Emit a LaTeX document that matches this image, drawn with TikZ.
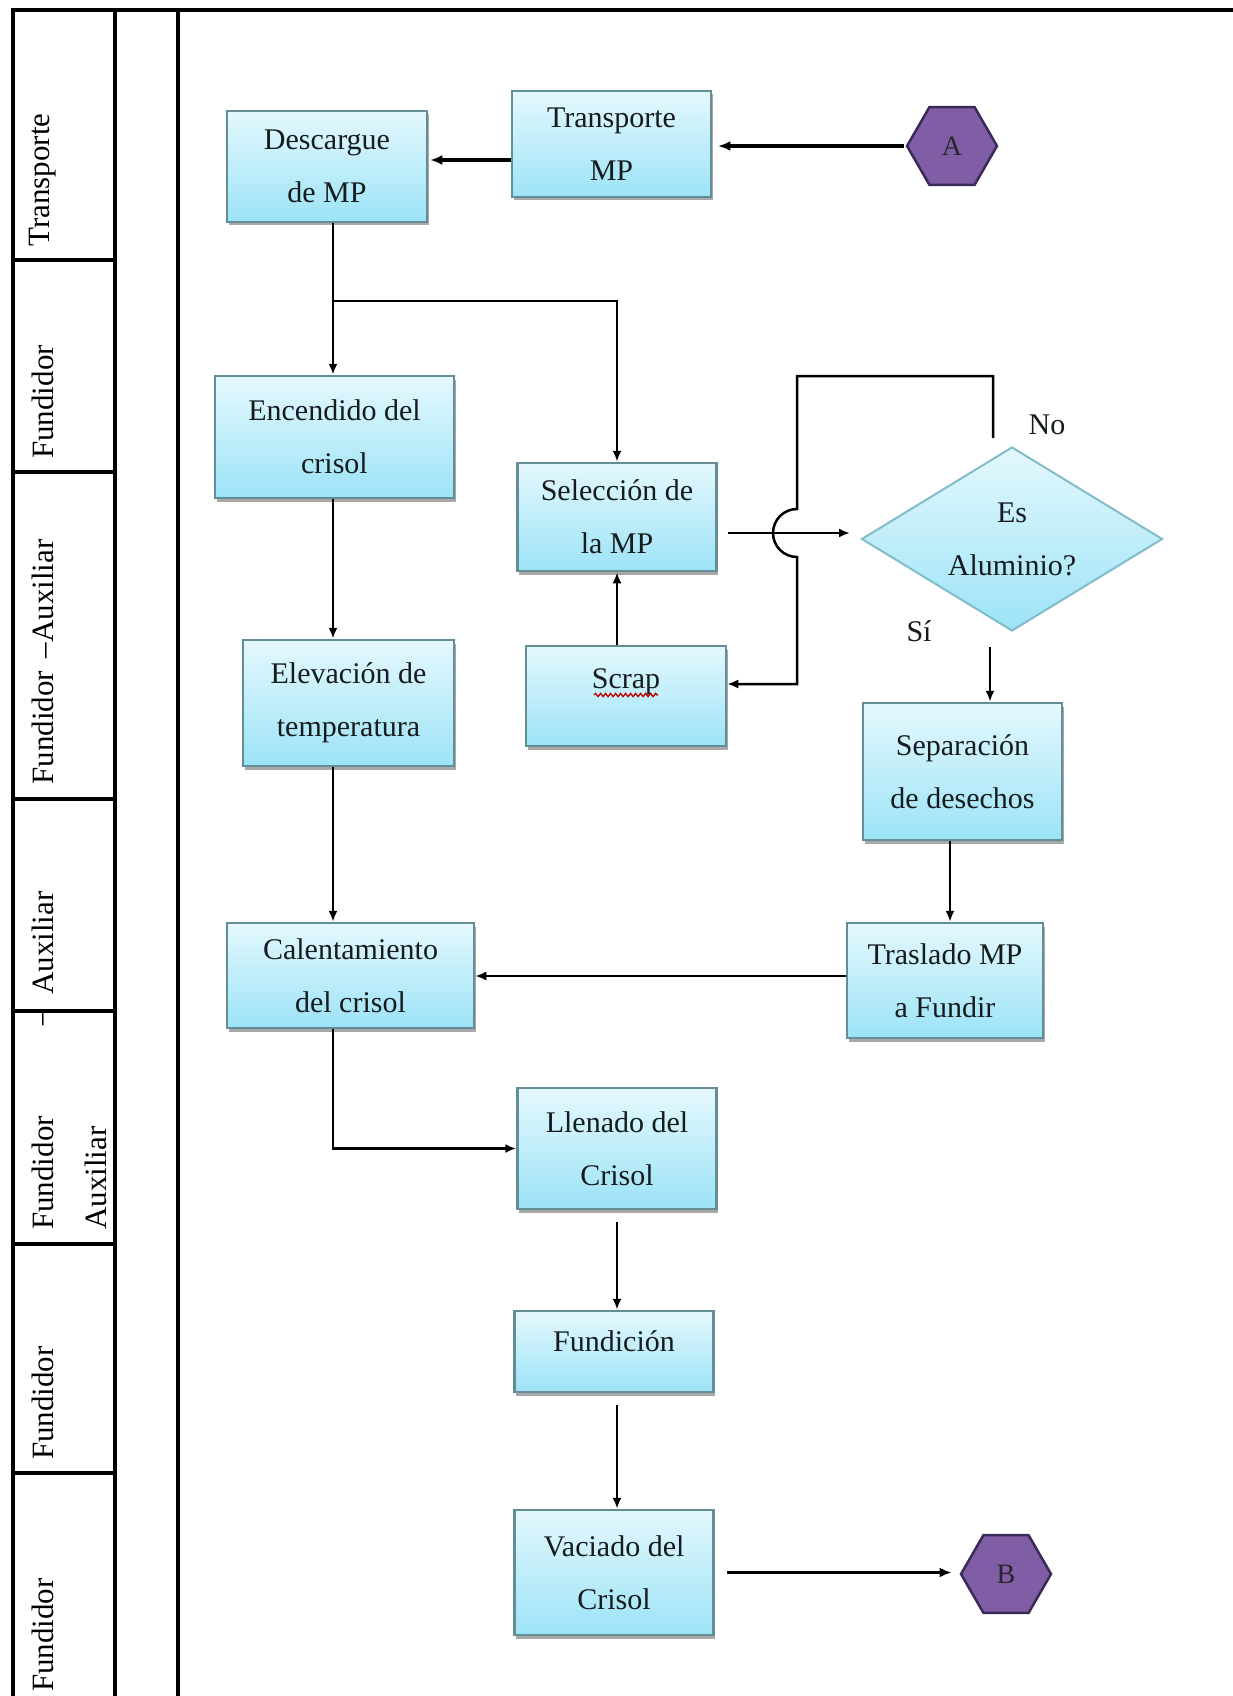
\documentclass[tikz,border=0pt]{standalone}
\usepackage{fontspec}
\setmainfont{Liberation Serif}
\usetikzlibrary{shapes.geometric,shadows,arrows.meta,decorations.pathmorphing,calc}

\definecolor{boxtop}{RGB}{228,248,253}
\definecolor{boxbot}{RGB}{156,227,247}
\definecolor{boxline}{RGB}{100,142,150}
\definecolor{decline}{RGB}{130,188,202}
\definecolor{hexfill}{RGB}{128,94,166}
\definecolor{hexline}{RGB}{58,42,88}
\definecolor{txt}{RGB}{22,28,30}

\tikzset{
  lane/.style={line width=3.5pt, black},
  lanelabel/.style={rotate=90, font=\fontsize{31}{53}\selectfont, inner sep=0pt, text=black},
  proc/.style={rectangle, draw=boxline, line width=2.5pt,
    top color=boxtop, bottom color=boxbot, align=center, inner sep=0pt,
    font=\fontsize{30}{53}\selectfont, text=txt,
    drop shadow={shadow xshift=1.5pt, shadow yshift=-3.5pt, fill=gray!75, opacity=0.9}},
  decision/.style={diamond, aspect=1.6, draw=decline, line width=2pt,
    top color=boxtop, bottom color=boxbot, align=center, inner sep=0pt,
    font=\fontsize{30}{53}\selectfont, text=txt,
    minimum width=301pt, minimum height=184pt},
  connector/.style={regular polygon, regular polygon sides=6,
    draw=hexline, line width=2.5pt, fill=hexfill, minimum size=90pt, inner sep=0pt,
    font=\fontsize{28}{34}\selectfont, text=black!85},
  flow/.style={line width=2.5pt, -{Latex[length=11pt,width=9pt]}},
  heavyflow/.style={line width=4pt, -{Latex[length=12pt,width=10pt]}},
  tag/.style={font=\fontsize{30}{36}\selectfont, inner sep=0pt, text=txt},
}

\begin{document}
\begin{tikzpicture}[x=1pt, y=-1pt]
  \useasboundingbox (0,0) rectangle (1233,1696);
  \fill[white] (0,0) rectangle (1233,1696);

  % swimlane frame
  \draw[lane] (1233,10) -- (13,10) -- (13,1696);
  \draw[lane] (115,10) -- (115,1696);
  \draw[lane] (178,10) -- (178,1696);
  \foreach \yy in {260,472,799,1011,1244,1473}
    \draw[lane] (13,\yy) -- (115,\yy);

  % lane titles
  \node[lanelabel] (l1) at (43,180) {Transporte};
  \node[lanelabel] (l2) at (43,402) {Fundidor};
  \node[lanelabel] (l3) at (43,662) {Fundidor \,–Auxiliar};
  \node[lanelabel] (l4) at (43,943) {Auxiliar};
  \node[lanelabel] (l4d) at (47,1018) {–};
  \node[lanelabel, align=left] (l5) at (69.5,1173) {Fundidor\\Auxiliar};
  \node[lanelabel] (l6) at (43,1403) {Fundidor};
  \node[lanelabel] (l7) at (43,1635) {Fundidor};

  % process steps
  \node[proc, minimum width=200pt, minimum height=111pt] (desc) at (327,166.5) {Descargue\\de MP};
  \node[proc, minimum width=199pt, minimum height=106pt] (trans) at (611.5,144) {Transporte\\MP};
  \node[proc, minimum width=239pt, minimum height=122pt] (enc) at (334.5,437) {Encendido del\\crisol};
  \node[proc, minimum width=199pt, minimum height=108pt] (sel) at (617,517) {Selección de\\la MP};
  \node[proc, minimum width=200pt, minimum height=100pt] (scrap) at (626,696) {\raisebox{34pt}{Scrap}};
  \node[proc, minimum width=211pt, minimum height=126pt] (elev) at (348.5,703) {Elevación de\\temperatura};
  \node[proc, minimum width=199pt, minimum height=137pt] (sep) at (962.5,771.5) {Separación\\de desechos};
  \node[proc, minimum width=247pt, minimum height=105pt] (cal) at (350.5,975.5) {Calentamiento\\del crisol};
  \node[proc, minimum width=196pt, minimum height=115pt] (tras) at (945,980.5) {Traslado MP\\a Fundir};
  \node[proc, minimum width=199pt, minimum height=121pt] (llen) at (617,1148.5) {Llenado del\\Crisol};
  \node[proc, minimum width=199pt, minimum height=81pt] (fund) at (614,1351.5) {\raisebox{21pt}{Fundición}};
  \node[proc, minimum width=199pt, minimum height=125pt] (vac) at (614,1572.5) {Vaciado del\\Crisol};

  \node[decision] (dia) at (1012,539) {Es\\Aluminio?};

  \node[connector] (A) at (952,146) {A};
  \node[connector] (B) at (1006,1574) {B};

  % spell-check squiggle under Scrap
  \draw[red!75!black, line width=1.3pt, decorate,
        decoration={snake, amplitude=1.6pt, segment length=5pt}]
    ($(scrap.center)+(-32,-1)$) -- ($(scrap.center)+(32,-1)$);

  % branch labels
  \node[tag] (nolbl) at (1047,425) {No};
  \node[tag] (silbl) at (919,631) {Sí};

  % routing points
  \coordinate (j1) at (333,301);
  \coordinate (n1) at (993,438);
  \coordinate (n2) at (993,376);
  \coordinate (n3) at (797,376);
  \coordinate (jt) at (797,509);
  \coordinate (n4) at (797,684);
  \coordinate (s1) at (990,647);
  \coordinate (x950) at (950,0);
  \coordinate (y976) at (0,976);
  \coordinate (t1) at (850,533);
  \coordinate (t0) at (728,533);
  \coordinate (d0) at (0,160);

  % connectors
  \draw[heavyflow, shorten <=2pt, shorten >=6pt] (A.west) -- (A.west -| trans.east);
  \draw[heavyflow, shorten >=2pt] (trans.west |- d0) -- (desc.east |- d0);
  \draw[flow] (desc.south -| j1) -- (enc.north -| j1);
  \draw[flow] (j1) -| (sel.north);
  \draw[flow] (enc.south -| j1) -- (elev.north -| j1);
  \draw[flow] (elev.south -| j1) -- (cal.north -| j1);
  \draw[flow] (scrap.north -| sel.south) -- (sel.south);
  \draw[flow] (t0) -- (t1);
  \draw[flow] (n1) -- (n2) -- (n3) -- (jt)
      arc[start angle=90, end angle=270, radius=24pt] -- (n4) -- (scrap.east |- n4);
  \draw[flow] (s1) -- (s1 |- sep.north);
  \draw[flow] (x950 |- sep.south) -- (x950 |- tras.north);
  \draw[flow] (tras.west |- y976) -- (cal.east |- y976);
  \draw[flow] (cal.south -| j1) |- (llen.west);
  \draw[flow, shorten <=12pt] (llen.south) -- (llen.south |- fund.north);
  \draw[flow, shorten <=12pt] (fund.south -| llen.south) -- (vac.north -| llen.south);
  \draw[line width=3.5pt, -{Latex[length=12pt,width=10pt]}, shorten <=12pt, shorten >=8pt]
    (vac.east) -- (vac.east -| B.west);
\end{tikzpicture}
\end{document}
